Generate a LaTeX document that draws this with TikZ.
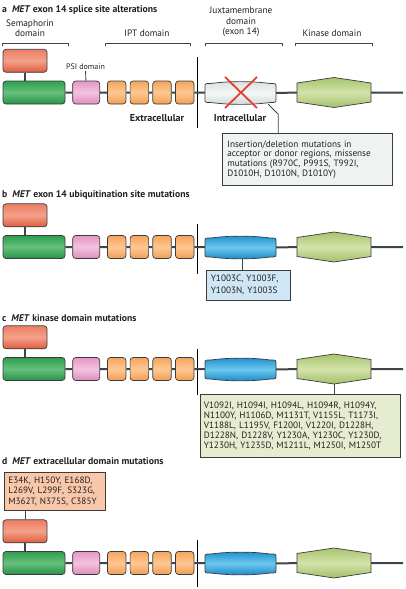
\documentclass[tikz,border=0pt]{standalone}
\usepackage{fontspec}
\setmainfont{PT Sans}
\usetikzlibrary{positioning}
\definecolor{edgegray}{HTML}{3B3B3B}
\definecolor{bonegray}{HTML}{3D4549}
\definecolor{redtop}{HTML}{EC7D64}
\definecolor{redmid}{HTML}{F4A18A}
\definecolor{redbot}{HTML}{DC5C3E}
\definecolor{greentop}{HTML}{2F9E4F}
\definecolor{greenmid}{HTML}{66C07C}
\definecolor{greenbot}{HTML}{27924A}
\definecolor{pinktop}{HTML}{E597C4}
\definecolor{pinkmid}{HTML}{F3C3DE}
\definecolor{pinkbot}{HTML}{DE8CBB}
\definecolor{orangetop}{HTML}{F5A45A}
\definecolor{orangemid}{HTML}{FDC894}
\definecolor{orangebot}{HTML}{F29E52}
\definecolor{bluetop}{HTML}{1F90D0}
\definecolor{bluemid}{HTML}{6CC8EE}
\definecolor{bluebot}{HTML}{1A86C8}
\definecolor{kintop}{HTML}{A7C46E}
\definecolor{kinmid}{HTML}{D4E3AA}
\definecolor{kinbot}{HTML}{A3BF6C}
\definecolor{jmtop}{HTML}{D9E0E0}
\definecolor{jmmid}{HTML}{F5F7F7}
\definecolor{jmbot}{HTML}{CFD7D7}
\definecolor{mutgray}{HTML}{EEF2F1}
\definecolor{mutblue}{HTML}{CFE6F6}
\definecolor{mutgreen}{HTML}{E5ECD0}
\definecolor{mutsalmon}{HTML}{F9C7AA}
\definecolor{crossred}{HTML}{E0412E}
\definecolor{inkgray}{HTML}{231F20}
\begin{document}
\begin{tikzpicture}[x=1pt,y=1pt,text=inkgray,
title/.style={anchor=west,inner sep=0pt,font=\bfseries\fontsize{9.7}{11}\selectfont},
head/.style={align=center,inner sep=0pt,font=\fontsize{9.3}{10.4}\selectfont},
side/.style={inner sep=0pt,font=\bfseries\fontsize{10}{11}\selectfont},
psilab/.style={inner sep=1pt,font=\fontsize{8}{9}\selectfont},
dom/.style={draw=edgegray,line width=0.7pt,rounded corners=3pt,inner sep=0pt,minimum height=23pt},
semahead/.style={dom,minimum width=44pt,top color=redtop,bottom color=redbot,middle color=redmid},
semabase/.style={dom,minimum width=62pt,top color=greentop,bottom color=greenbot,middle color=greenmid},
psibox/.style={dom,minimum width=27pt,top color=pinktop,bottom color=pinkbot,middle color=pinkmid},
iptbox/.style={dom,minimum width=18.5pt,top color=orangetop,bottom color=orangebot,middle color=orangemid},
grayshade/.style={top color=jmtop,bottom color=jmbot,middle color=jmmid},
blueshade/.style={top color=bluetop,bottom color=bluebot,middle color=bluemid},
jmbox/.style={inner sep=0pt,minimum width=71pt,minimum height=22pt,
  append after command={\pgfextra{\draw[#1,draw=edgegray,line width=0.7pt,shift={(\tikzlastnode.center)}]
  (-35.5,-6) -- (-35.5,6) .. controls (-35.5,9.5) .. (-30,9.5) .. controls (-10,12) and (10,12) .. (30,9.5)
  .. controls (35.5,9.5) .. (35.5,6) -- (35.5,-6) .. controls (35.5,-9.5) .. (30,-9.5)
  .. controls (10,-12) and (-10,-12) .. (-30,-9.5) .. controls (-35.5,-9.5) .. (-35.5,-6) -- cycle;}}},
kinbox/.style={inner sep=0pt,minimum width=74pt,minimum height=30pt,
  append after command={\pgfextra{\draw[top color=kintop,bottom color=kinbot,middle color=kinmid,draw=edgegray,line width=0.7pt,shift={(\tikzlastnode.center)}]
  (0,15) -- (37,9.5) -- (37,-9.5) -- (0,-15) -- (-37,-9.5) -- (-37,9.5) -- cycle;}}},
bone/.style={draw=bonegray,line width=2pt},
link/.style={draw=bonegray,line width=0.9pt},
brack/.style={draw=bonegray,line width=0.9pt},
membrane/.style={draw=black,line width=0.9pt},
cross/.style={draw=crossred,line width=1.8pt},
mutbox/.style={draw=edgegray,line width=0.7pt,align=left,anchor=north west,inner xsep=4.5pt,inner ysep=0pt,font=\fontsize{9.2}{10}\selectfont}
]
\useasboundingbox (0,0) rectangle (405,-589);

% a
\node[title] (ta) at (2,-10) {a\hspace{5pt}\textit{MET} exon 14 splice site alterations};
\node[head,anchor=south] (hs) at (30,-37) {Semaphorin\\domain};
\node[head,anchor=south] (hi) at (147,-37) {IPT domain};
\node[head,anchor=south] (hj) at (241,-37) {Juxtamembrane\\domain\\(exon 14)};
\node[head,anchor=south] (hk) at (332,-37) {Kinase domain};
\draw[brack] (2,-46) |- (68,-43) -- (68,-46);
\draw[brack] (105,-46) |- (190,-43) -- (190,-46);
\draw[brack] (205,-46) |- (282,-43) -- (282,-46);
\draw[brack] (295,-46) |- (372,-43) -- (372,-46);
\draw[membrane] (197,-57) -- (197,-128);
\node[semabase] (g1) at (34,-92.5) {};
\node[semahead,anchor=south west] (r1) at ([yshift=8pt]g1.north west) {};
\node[psibox,right=7pt of g1] (p1) {};
\node[iptbox,right=7pt of p1] (i11) {};
\node[iptbox,right=3.5pt of i11] (i12) {};
\node[iptbox,right=3.5pt of i12] (i13) {};
\node[iptbox,right=3.5pt of i13] (i14) {};
\node[jmbox=grayshade] (j1) at (240.5,-93) {};
\node[kinbox] (k1) at (334,-92.5) {};
\coordinate (e1) at (403,-92.5);
\draw[bone] (g1) -- (p1) -- (i11) -- (i12) -- (i13) -- (i14) -- (j1) -- (k1) -- (e1);
\draw[bone] (r1.south) -- (r1.south |- g1.north);
\node[psilab] (pl) at (85.5,-67) {PSI domain};
\draw[link] (pl) -- (p1);
\draw[cross] ([shift={(-15.5,16)}]j1.center) -- ([shift={(16.5,-15)}]j1.center);
\draw[cross] ([shift={(16.5,16)}]j1.center) -- ([shift={(-15.5,-15)}]j1.center);
\node[side] (xc) at (157,-118) {Extracellular};
\node[side] (ic) at (240,-118) {Intracellular};
\node[mutbox,fill=mutgray,text width=160pt,minimum height=52pt,inner xsep=5pt,font=\fontsize{9.2}{9.7}\selectfont] (m1) at (222,-133) {Insertion/deletion mutations in\\acceptor or donor regions, missense\\mutations (R970C, P991S, T992I,\\D1010H, D1010N, D1010Y)};
\draw[link] ([xshift=-8pt]j1.south east) -- ++(10pt,-10pt) coordinate (c1) -- (c1 |- m1.north);

% b
\node[title] (tb) at (2,-195) {b\hspace{5pt}\textit{MET} exon 14 ubiquitination site mutations};
\draw[membrane] (197,-224) -- (197,-274);
\node[semabase] (g2) at (34,-247) {};
\node[semahead,anchor=south west] (r2) at ([yshift=8pt]g2.north west) {};
\node[psibox,right=7pt of g2] (p2) {};
\node[iptbox,right=7pt of p2] (i21) {};
\node[iptbox,right=3.5pt of i21] (i22) {};
\node[iptbox,right=3.5pt of i22] (i23) {};
\node[iptbox,right=3.5pt of i23] (i24) {};
\node[jmbox=blueshade] (j2) at (240.5,-247.5) {};
\node[kinbox] (k2) at (334,-247) {};
\coordinate (e2) at (403,-247);
\draw[bone] (g2) -- (p2) -- (i21) -- (i22) -- (i23) -- (i24) -- (j2) -- (k2) -- (e2);
\draw[bone] (r2.south) -- (r2.south |- g2.north);
\node[mutbox,fill=mutblue,text width=75pt,minimum height=30pt,font=\fontsize{9.2}{12}\selectfont] (m2) at (206,-270) {Y1003C, Y1003F,\\Y1003N, Y1003S};
\draw[link] ([xshift=2pt]j2.south) -- ([xshift=2pt]j2.south |- m2.north);

% c
\node[title] (tc) at (2,-318) {c\hspace{5pt}\textit{MET} kinase domain mutations};
\draw[membrane] (197,-349) -- (197,-395);
\node[semabase] (g3) at (34,-369) {};
\node[semahead,anchor=south west] (r3) at ([yshift=8pt]g3.north west) {};
\node[psibox,right=7pt of g3] (p3) {};
\node[iptbox,right=7pt of p3] (i31) {};
\node[iptbox,right=3.5pt of i31] (i32) {};
\node[iptbox,right=3.5pt of i32] (i33) {};
\node[iptbox,right=3.5pt of i33] (i34) {};
\node[jmbox=blueshade] (j3) at (240.5,-369.5) {};
\node[kinbox] (k3) at (334,-369) {};
\coordinate (e3) at (403,-369);
\draw[bone] (g3) -- (p3) -- (i31) -- (i32) -- (i33) -- (i34) -- (j3) -- (k3) -- (e3);
\draw[bone] (r3.south) -- (r3.south |- g3.north);
\node[mutbox,fill=mutgreen,text width=193pt,minimum height=63pt,inner xsep=3.5pt] (m3) at (200,-394) {V1092I, H1094I, H1094L, H1094R, H1094Y,\\N1100Y, H1106D, M1131T, V1155L, T1173I,\\V1188L, L1195V, F1200I, V1220I, D1228H,\\D1228N, D1228V, Y1230A, Y1230C, Y1230D,\\Y1230H, Y1235D, M1211L, M1250I, M1250T};
\draw[link] (k3.south) -- (k3.south |- m3.north);

% d
\node[title] (td) at (2,-461) {d\hspace{5pt}\textit{MET} extracellular domain mutations};
\node[mutbox,fill=mutsalmon,text width=93pt,minimum height=38pt,inner xsep=4pt,font=\fontsize{9.2}{10.7}\selectfont] (m4) at (4,-472) {E34K, H150Y, E168D,\\L269V, L299F, S323G,\\M362T, N375S, C385Y};
\draw[membrane] (197,-540) -- (197,-587);
\node[semabase] (g4) at (34,-563) {};
\node[semahead,anchor=south west] (r4) at ([yshift=8pt]g4.north west) {};
\node[psibox,right=7pt of g4] (p4) {};
\node[iptbox,right=7pt of p4] (i41) {};
\node[iptbox,right=3.5pt of i41] (i42) {};
\node[iptbox,right=3.5pt of i42] (i43) {};
\node[iptbox,right=3.5pt of i43] (i44) {};
\node[jmbox=blueshade] (j4) at (240.5,-563.5) {};
\node[kinbox] (k4) at (334,-563) {};
\coordinate (e4) at (403,-563);
\draw[bone] (g4) -- (p4) -- (i41) -- (i42) -- (i43) -- (i44) -- (j4) -- (k4) -- (e4);
\draw[bone] (r4.south) -- (r4.south |- g4.north);
\draw[link] (r4.north |- m4.south) -- (r4.north);
\end{tikzpicture}
\end{document}
